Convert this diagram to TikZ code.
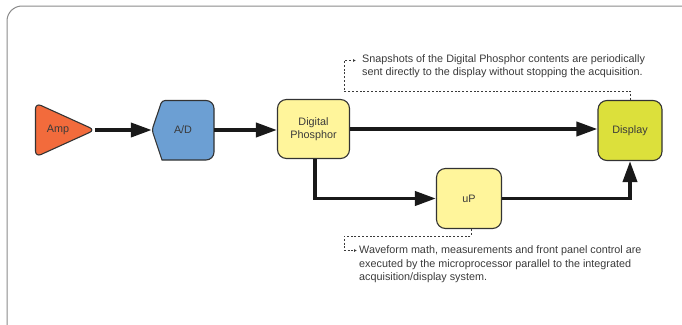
\documentclass[tikz,border=0pt]{standalone}
\usepackage{fontspec}
\setmainfont{Liberation Sans}
\usetikzlibrary{arrows.meta}
\definecolor{txt}{HTML}{3A3A3A}
\definecolor{edge}{HTML}{333333}
\definecolor{ampc}{HTML}{F26B3C}
\definecolor{adc}{HTML}{6C9FD3}
\definecolor{yel}{HTML}{FFF59B}
\definecolor{dispc}{HTML}{DCE03B}
\definecolor{framec}{HTML}{8A8A8A}
\tikzset{
  lbl/.style={font=\fontsize{10.8}{13.5}\selectfont, text=txt, align=center, inner sep=0pt},
  boxnode/.style={lbl, draw=edge, line width=1.1pt, rounded corners=9pt},
  flow/.style={line width=3.8pt, draw=black!90, line join=miter, -{Triangle[length=21pt,width=14pt]}},
  notepath/.style={draw=txt, line width=0.8pt, dash pattern=on 2pt off 1.8pt, -{Latex[length=3pt,width=3pt]}},
  notetext/.style={font=\fontsize{10.8}{13.7}\selectfont, text=txt, align=left, inner sep=0pt, anchor=north west},
}
\begin{document}
\begin{tikzpicture}[x=1pt,y=-1pt]
\useasboundingbox (0,0) rectangle (682,324);
\begin{scope}
\clip (0,0) rectangle (682,324);
\draw[framec, line width=1pt, rounded corners=15pt] (7,6) rectangle (720,360);
\end{scope}
% Amp
\draw[fill=ampc, draw=edge, line width=1.1pt, rounded corners=6pt] (35.5,103) -- (95,130) -- (35.5,157) -- cycle;
\node[lbl, minimum width=40pt, minimum height=54pt] (amp) at (58,130) {Amp};
\coordinate (amptip) at (95,130);
% A/D
\draw[fill=adc, draw=edge, line width=1.1pt] (162,100.5) -- (206,100.5) [rounded corners=8pt] -- (214,100.5) -- (214,160) [sharp corners] -- (206,160) -- (162,160) [rounded corners=3pt] -- (152,130) -- cycle;
\node[lbl, minimum width=62pt, minimum height=59.5pt] (ad) at (183,130) {A/D};
% boxes
\node[boxnode, fill=yel, minimum width=72pt, minimum height=59pt] (dp) at (313.5,129) {Digital\\Phosphor};
\node[boxnode, fill=dispc, minimum width=64pt, minimum height=60pt] (disp) at (630,130.5) {Display};
\node[boxnode, fill=yel, minimum width=65pt, minimum height=60pt] (up) at (469,198.5) {uP};
% flows
\draw[flow] (amptip) -- (ad.west);
\draw[flow] (ad.east) -- (ad.east -| dp.west);
\draw[flow] (dp.east) -- (dp.east -| disp.west);
\draw[flow] (dp.south -| 315,0) |- (up.west);
\draw[flow] (up.east) -| (disp.south);
% notes
\node[notetext] (n1) at (362,54) {Snapshots of the Digital Phosphor contents are periodically\\ sent directly to the display without stopping the acquisition.};
\node[notetext] (n2) at (359,245.5) {Waveform math, measurements and front panel control are\\executed by the microprocessor parallel to the integrated\\acquisition/display system.};
\coordinate (c1) at (344,91);
\coordinate (c2) at (344,60.5);
\draw[notepath] (disp.north) |- (c1) -- (c2) -- (356,60.5);
\coordinate (c3) at (471,236);
\coordinate (c4) at (344,236);
\draw[notepath] (up.south -| c3) -- (c3) -- (c4) |- (357,250.5);
\end{tikzpicture}
\end{document}
